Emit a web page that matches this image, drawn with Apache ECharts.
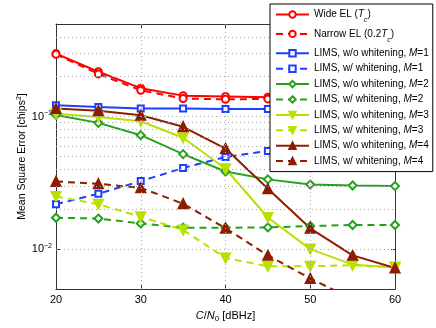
<!DOCTYPE html>
<html>
<head>
    <meta charset="utf-8">
    <title>MSE vs C/N0</title>
    <script src="https://cdn.jsdelivr.net/npm/echarts@6/dist/echarts.min.js"></script>
</head>
<body style="margin:0">
    <div id="main" style="width: 436px;height:328px;"></div>
    <script type="text/javascript">
        // C/N0 values (dBHz)
        var cn0 = [20, 25, 30, 35, 40, 45, 50, 55, 60];

        // MSE values (chips^2)
        var wideEL      = [0.299, 0.218, 0.164, 0.144, 0.142, 0.140, 0.139, 0.138, 0.138];
        var narrowEL    = [0.295, 0.210, 0.158, 0.137, 0.135, 0.136, 0.134, 0.134, 0.134];
        var woM1        = [0.122, 0.118, 0.115, 0.115, 0.114, 0.114, 0.114, 0.114, 0.114];
        var wM1         = [0.0218, 0.0262, 0.0326, 0.0409, 0.0496, 0.0551, 0.060, 0.063, 0.065];
        var woM2        = [0.103, 0.0897, 0.0724, 0.0521, 0.0385, 0.0336, 0.0307, 0.0302, 0.0299];
        var wM2         = [0.01725, 0.0170, 0.01563, 0.01452, 0.0145, 0.01459, 0.01493, 0.0152, 0.0152];
        var woM3        = [0.1053, 0.0995, 0.0922, 0.0693, 0.0404, 0.01733, 0.0100, 0.00763, 0.0073];
        var wM3         = [0.0250, 0.0218, 0.01754, 0.01393, 0.00857, 0.00743, 0.00743, 0.00755, 0.0073];
        var woM4        = [0.1153, 0.1109, 0.1023, 0.0838, 0.0574, 0.0285, 0.01435, 0.00897, 0.00721];
        var wM4         = [0.0324, 0.0311, 0.0290, 0.0220, 0.0144, 0.00897, 0.0060, 0.0042, 0.0030];

        // y grid lines (log decades and their sub-ticks)
        var yGrid = [0.006, 0.007, 0.008, 0.009, 0.01, 0.02, 0.03, 0.04, 0.05, 0.06, 0.07, 0.08, 0.09, 0.1, 0.2, 0.3, 0.4];
        var xTicks = [20, 30, 40, 50, 60];

        var RED = '#ff0000', BLUE = '#1f3fff', GREEN = '#22a31a', YEL = '#bbe000', DRED = '#901c00';

        var legendNames = {
            'wide': '{t|Wide EL (}{i|T}{s|c}{t|)}',
            'narrow': '{t|Narrow EL (0.2}{i|T}{s|c}{t|)}',
            'woM1': '{t|LIMS, w/o whitening, }{i|M}{t|=1}',
            'wM1': '{t|LIMS, w/ whitening, }{i|M}{t|=1}',
            'woM2': '{t|LIMS, w/o whitening, }{i|M}{t|=2}',
            'wM2': '{t|LIMS, w/ whitening, }{i|M}{t|=2}',
            'woM3': '{t|LIMS, w/o whitening, }{i|M}{t|=3}',
            'wM3': '{t|LIMS, w/ whitening, }{i|M}{t|=3}',
            'woM4': '{t|LIMS, w/o whitening, }{i|M}{t|=4}',
            'wM4': '{t|LIMS, w/ whitening, }{i|M}{t|=4}'
        };

        function mk(name, vals, color, dashed, symbol, size, filled, rotate) {
            return {
                name: name,
                type: 'line',
                data: cn0.map(function (x, i) { return [x, vals[i]]; }),
                symbol: symbol,
                symbolSize: size,
                symbolRotate: rotate || 0,
                showSymbol: true,
                clip: true,
                lineStyle: { color: color, width: 2, type: dashed ? [7, 5] : 'solid' },
                itemStyle: { color: filled ? color : '#ffffff', borderColor: color, borderWidth: 2 },
                emphasis: { disabled: true }
            };
        }

        var series = [
            mk('wide', wideEL, RED, false, 'circle', 7, false),
            mk('narrow', narrowEL, RED, true, 'circle', 7, false),
            mk('woM1', woM1, BLUE, false, 'rect', 6, false),
            mk('wM1', wM1, BLUE, true, 'rect', 6, false),
            mk('woM2', woM2, GREEN, false, 'diamond', 8, false),
            mk('wM2', wM2, GREEN, true, 'diamond', 8, false),
            mk('woM3', woM3, YEL, false, 'triangle', 9, true, 180),
            mk('wM3', wM3, YEL, true, 'triangle', 9, true, 180),
            mk('woM4', woM4, DRED, false, 'triangle', 9, true),
            mk('wM4', wM4, DRED, true, 'triangle', 9, true)
        ];

        // dotted grid lines drawn through the log scale
        series.unshift({
            name: 'grid',
            type: 'line',
            data: [],
            silent: true,
            markLine: {
                silent: true,
                symbol: 'none',
                label: { show: false },
                lineStyle: { color: '#aaaaaa', type: [1, 3], width: 1 },
                data: yGrid.map(function (v) { return { yAxis: v }; })
                    .concat(xTicks.slice(1, -1).map(function (v) { return { xAxis: v }; }))
            }
        });

        var textRich = {
            t: { fontSize: 10, fontFamily: 'Liberation Sans', color: '#000', lineHeight: 11 },
            i: { fontSize: 10, fontFamily: 'Liberation Sans', fontStyle: 'italic', color: '#000', lineHeight: 11 },
            s: { fontSize: 7, fontFamily: 'Liberation Sans', fontStyle: 'italic', color: '#000', verticalAlign: 'bottom', padding: [0, 0, -4, 0], lineHeight: 11 }
        };

        var myChart = echarts.init(document.getElementById('main'));
        var option = {
            animation: false,
            backgroundColor: '#ffffff',
            grid: { left: 56, right: 41, top: 24, bottom: 38 },
            legend: {
                orient: 'vertical',
                left: 270,
                top: 4,
                padding: [5, 4, 5, 5],
                backgroundColor: '#ffffff',
                borderColor: '#000000',
                borderWidth: 1,
                itemWidth: 33,
                itemHeight: 8,
                itemGap: 4.4,
                itemTextGap: 3,
                data: series.slice(1).map(function (s) { return s.name; }),
                formatter: function (n) { return legendNames[n]; },
                textStyle: { rich: textRich, lineHeight: 11 },
                z: 10
            },
            xAxis: [{
                type: 'value',
                min: 20, max: 60, interval: 10,
                name: '{i|C}{t|/}{i|N}{s|0}{t| [dBHz]}',
                nameLocation: 'middle',
                nameGap: 19,
                nameMoveOverlap: false,
                nameTextStyle: {
                    rich: {
                        t: { fontSize: 11, fontFamily: 'Liberation Sans', color: '#000' },
                        i: { fontSize: 11, fontFamily: 'Liberation Sans', fontStyle: 'italic', color: '#000' },
                        s: { fontSize: 8, fontFamily: 'Liberation Sans', color: '#000', padding: [7, 0, 0, 0] }
                    }
                },
                axisLine: { lineStyle: { color: '#333', width: 1 } },
                axisTick: { inside: true, length: 4, lineStyle: { color: '#333' } },
                axisLabel: { fontSize: 11, fontFamily: 'Liberation Sans', color: '#000', margin: 5 },
                splitLine: { show: false }
            }, {
                type: 'value',
                position: 'top',
                min: 20, max: 60, interval: 10,
                axisLine: { lineStyle: { color: '#333', width: 1 } },
                axisTick: { inside: true, length: 4, lineStyle: { color: '#333' } },
                axisLabel: { show: false },
                splitLine: { show: false }
            }],
            yAxis: [{
                type: 'log',
                logBase: 10,
                min: 0.005, max: 0.5,
                name: '{t|Mean Square Error [chips}{p|2}{t|]}',
                nameLocation: 'middle',
                nameGap: 27,
                nameMoveOverlap: false,
                nameTextStyle: {
                    rich: {
                        t: { fontSize: 10.5, fontFamily: 'Liberation Sans', color: '#000' },
                        p: { fontSize: 7, fontFamily: 'Liberation Sans', color: '#000', padding: [0, 0, 6, 0] }
                    }
                },
                axisLine: { show: true, lineStyle: { color: '#333', width: 1 } },
                axisTick: { inside: true, length: 4, lineStyle: { color: '#333' } },
                axisLabel: {
                    margin: 4,
                    formatter: function (v) {
                        var e = Math.log10(v);
                        if (Math.abs(e - Math.round(e)) > 1e-6) return '';
                        return '{b|10}{p|\u2212' + Math.abs(Math.round(e)) + '}';
                    },
                    rich: {
                        b: { fontSize: 11, fontFamily: 'Liberation Sans', color: '#000' },
                        p: { fontSize: 7, fontFamily: 'Liberation Sans', color: '#000', padding: [0, 0, 7, 0] }
                    }
                },
                splitLine: { show: false }
            }, {
                type: 'log',
                logBase: 10,
                position: 'right',
                min: 0.005, max: 0.5,
                axisLine: { show: true, lineStyle: { color: '#333', width: 1 } },
                axisTick: { inside: true, length: 4, lineStyle: { color: '#333' } },
                axisLabel: { show: false },
                splitLine: { show: false }
            }],
            series: series
        };
        myChart.setOption(option);
    </script>
</body>
</html>
